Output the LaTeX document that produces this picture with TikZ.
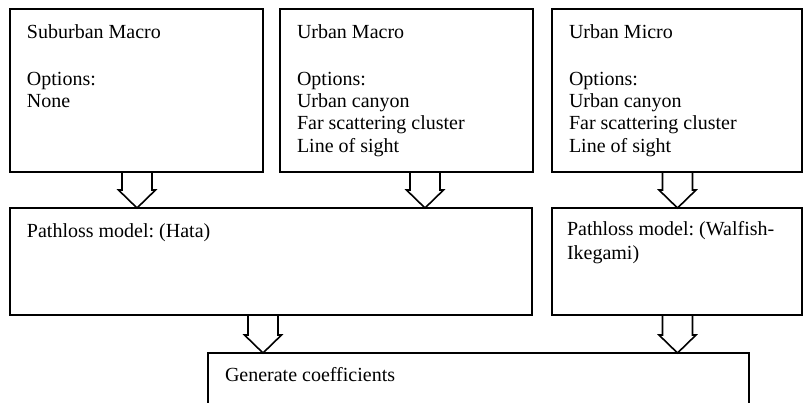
\documentclass[tikz,border=0pt]{standalone}
\usepackage{fontspec}
\setmainfont{Liberation Serif}
\usetikzlibrary{calc}
\frenchspacing
\newcommand\blkarrow[3]{%
  \draw[blk] ($(#1 |- #2.south)+(-15,0)$) -- ($(#1 |- #3.north)+(-15,-18)$)
    -- ($(#1 |- #3.north)+(-18.5,-18)$) -- (#1 |- #3.north)
    -- ($(#1 |- #3.north)+(18.5,-18)$) -- ($(#1 |- #3.north)+(15,-18)$)
    -- ($(#1 |- #2.south)+(15,0)$);}
\begin{document}
\begin{tikzpicture}[x=1pt,y=-1pt,
  box/.style={draw, line width=1.6pt, rectangle, inner sep=0pt, outer sep=0pt, anchor=north west},
  txt/.style={anchor=north west, inner sep=0pt, outer sep=0pt, align=left, font=\frenchspacing\fontsize{20}{22.3}\selectfont},
  blk/.style={draw, line width=1.6pt, line join=miter}]
\useasboundingbox (0,0) rectangle (804,403);
\fill[white] (0,0) rectangle (804,403);
\clip (0,0) rectangle (804,403);
% boxes
\node[box, minimum width=253pt, minimum height=163pt] (sm) at (10,9) {};
\node[box, minimum width=253pt, minimum height=163pt] (um) at (280,9) {};
\node[box, minimum width=250pt, minimum height=163pt] (mi) at (552,9) {};
\node[box, minimum width=522pt, minimum height=107pt] (hata) at (10,208) {};
\node[box, minimum width=250pt, minimum height=107pt] (wi) at (552,208) {};
\node[box, minimum width=541pt, minimum height=90pt] (gen) at (208,353) {};
% texts
\node[txt] (smt) at ($(sm.north west)+(17,15.3)$) {Suburban Macro\\[24.7pt]Options:\\None};
\node[txt] (umt) at ($(um.north west)+(17,15.3)$) {Urban Macro\\[24.7pt]Options:\\Urban canyon\\Far scattering cluster\\Line of sight};
\node[txt] (mit) at ($(mi.north west)+(17,15.3)$) {Urban Micro\\[24.7pt]Options:\\Urban canyon\\Far scattering cluster\\Line of sight};
\node[txt] (hatat) at ($(hata.north west)+(17,15.5)$) {Pathloss model: (Hata)};
\node[txt] (wit) at ($(wi.north west)+(15,13.5)$) {Pathloss model: (Walfish-\\[1.7pt]Ikegami)};
\node[txt] (gent) at ($(gen.north west)+(17,14.5)$) {Generate coefficients};
% arrow axes
\coordinate (x1) at (137,0);
\coordinate (x2) at (425,0);
\coordinate (x3) at (677.5,0);
\coordinate (x4) at (263,0);
\coordinate (x5) at (677.5,0);
\blkarrow{x1}{sm}{hata}
\blkarrow{x2}{um}{hata}
\blkarrow{x3}{mi}{wi}
\blkarrow{x4}{hata}{gen}
\blkarrow{x5}{wi}{gen}
\end{tikzpicture}
\end{document}
